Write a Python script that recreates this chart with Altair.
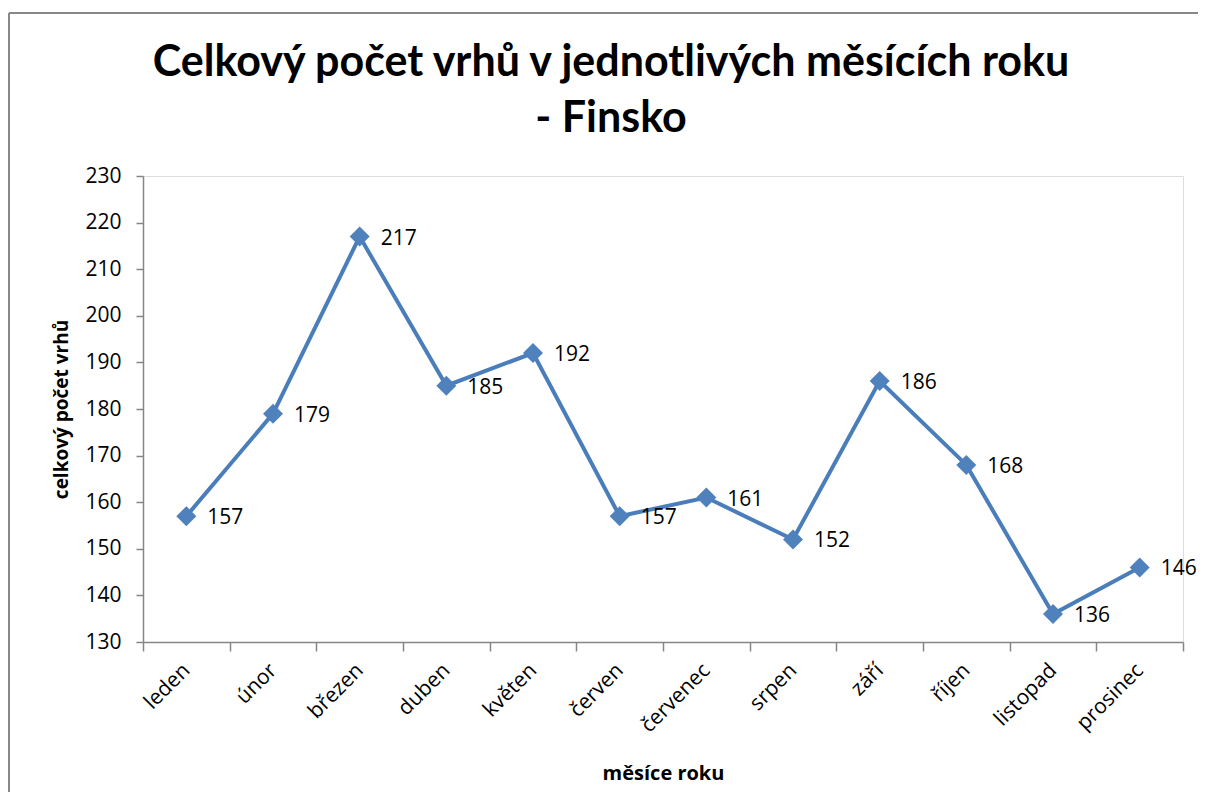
import altair as alt
import pandas as pd

months = ["leden", "únor", "březen", "duben", "květen", "červen",
          "červenec", "srpen", "září", "říjen", "listopad", "prosinec"]
values = [157, 179, 217, 185, 192, 157, 161, 152, 186, 168, 136, 146]
y_ticks = [130, 140, 150, 160, 170, 180, 190, 200, 210, 220, 230]
title_lines = ["Celkový počet vrhů v jednotlivých měsících roku", "- Finsko"]

df = pd.DataFrame({"mesic": months, "pocet": values})
one = pd.DataFrame({"k": [0]})

W, H = 1040, 466
LINE = "#4a7ebb"
MARK = "#4f81bd"
AX = "#868686"
FONT = "Open Sans"

x_enc = alt.X(
    "mesic:N", sort=months,
    scale=alt.Scale(type="band", paddingInner=0, paddingOuter=0),
    axis=alt.Axis(
        title="měsíce roku", titleFont=FONT, titleFontSize=20, titleFontWeight="bold",
        titleColor="#000000", titlePadding=28,
        labelAngle=-45, labelAlign="right", labelBaseline="middle",
        labelFont=FONT, labelFontSize=21, labelColor="#000000", labelPadding=16,
        tickBand="extent", tickSize=9, tickColor=AX, domainColor=AX,
        domainWidth=1.5, tickWidth=1.5, grid=False,
    ),
)
y_enc = alt.Y(
    "pocet:Q",
    scale=alt.Scale(domain=[130, 230], nice=False, zero=False),
    axis=alt.Axis(
        title="celkový počet vrhů", titleFont=FONT, titleFontSize=19, titleFontWeight="bold",
        titleColor="#000000", titlePadding=13,
        values=y_ticks, labelFont=FONT, labelFontSize=21, labelColor="#000000",
        labelPadding=15, tickSize=7, tickColor=AX, domainColor=AX,
        domainWidth=1.5, tickWidth=1.5, grid=False,
    ),
)

base = alt.Chart(df).encode(x=x_enc, y=y_enc)

line = base.mark_line(color=LINE, strokeWidth=4)
points = base.mark_point(shape="diamond", filled=True, size=400, color=MARK, opacity=1)
labels = base.mark_text(align="left", baseline="middle", dx=21, dy=2,
                        font=FONT, fontSize=21, color="#000000").encode(text="pocet:Q")

border_left = alt.Chart(one).mark_rule(color="#888888", strokeWidth=2).encode(
    x=alt.value(-134), y=alt.value(-163), y2=alt.value(H + 200))
border_top = alt.Chart(one).mark_rule(color="#888888", strokeWidth=2).encode(
    x=alt.value(-134), x2=alt.value(W + 100), y=alt.value(-163))

title1 = alt.Chart(one).mark_text(
    text=title_lines[0], font="Lato", fontSize=43, fontWeight="bold", color="#000000",
    align="center", baseline="alphabetic").encode(x=alt.value(468), y=alt.value(-100))
title2 = alt.Chart(one).mark_text(
    text=title_lines[1], font="Lato", fontSize=43, fontWeight="bold", color="#000000",
    align="center", baseline="alphabetic").encode(x=alt.value(468), y=alt.value(-44))

chart = alt.layer(border_left, border_top, title1, title2, line, points, labels).properties(
    width=W, height=H,
    autosize=alt.AutoSizeParams(type="none"),
    padding={"left": 135, "top": 168, "right": 15, "bottom": 150},
).configure_view(stroke=None).configure(background="white")

chart.save("out.html", embed_options={"renderer": "svg", "actions": False})
